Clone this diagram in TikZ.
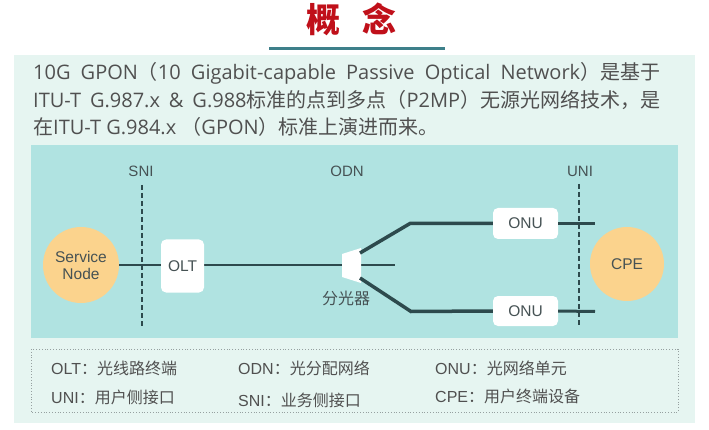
\documentclass[tikz,border=0pt]{standalone}
\usepackage{fontspec}
\setmainfont{Open Sans}
\newfontfamily\cjk{Noto Sans CJK SC}
\newfontfamily\arl{Liberation Sans}
\definecolor{titlered}{RGB}{192,16,26}
\definecolor{uline}{RGB}{62,128,138}
\definecolor{panel}{RGB}{230,245,241}
\definecolor{diag}{RGB}{176,227,225}
\definecolor{wire}{RGB}{45,74,77}
\definecolor{orangefill}{RGB}{251,211,141}
\definecolor{txt}{RGB}{80,80,80}
\definecolor{lbl}{RGB}{70,82,84}
\definecolor{legendline}{RGB}{150,160,160}
\usetikzlibrary{shapes.geometric}
\tikzset{
  para/.style={anchor=west, inner sep=0pt, text=txt, font=\fontsize{20}{24}\selectfont},
  dlabel/.style={text=lbl, inner sep=0pt, font=\arl\fontsize{15}{18}\selectfont},
  endpoint/.style={ellipse, fill=orangefill, minimum width=76pt, minimum height=76pt, inner sep=0pt, text=lbl, align=center, font=\arl\fontsize{15.5}{18}\selectfont},
  box/.style={rectangle, rounded corners=5pt, fill=white, text=lbl, inner sep=0pt, font=\arl\fontsize{15.5}{18}\selectfont},
  thinwire/.style={draw=wire, line width=2pt},
  thickwire/.style={draw=wire, line width=3.5pt},
  ifline/.style={draw=wire, line width=2pt, dash pattern=on 5pt off 3pt},
  legend/.style={anchor=west, inner sep=0pt, text=txt, font=\arl\fontsize{16}{19}\selectfont},
}
\begin{document}
\begin{tikzpicture}[x=1pt,y=-1pt]
\useasboundingbox (0,0) rectangle (709,430);
\fill[white] (0,0) rectangle (709,430);
\fill[panel] (14,55) rectangle (695,423);
% title
\node[text=titlered, inner sep=0pt, font=\cjk\bfseries\fontsize{34}{36}\selectfont] (title) at (351,19) {概\hspace{22pt}念};
\coordinate (ulL) at (269,49);
\coordinate (ulR) at (445,49);
\draw[draw=uline, line width=3pt] (ulL) -- (ulR);
% paragraph
\node[para] (p1) at (33,73) {\makebox[627pt][s]{10G GPON{\cjk （}10 Gigabit-capable Passive Optical Network{\cjk ）是基于}}};
\node[para] (p2) at (33,100) {\makebox[627pt][s]{ITU-T G.987.x \& G.988{\cjk 标准的点到多点（}P2MP{\cjk ）无源光网络技术，是}}};
\node[para] (p3) at (33,127) {{\cjk 在}ITU-T G.984.x {\cjk （}GPON{\cjk ）标准上演进而来。}};
% diagram
\fill[diag] (31,145) rectangle (678,338);
\node[dlabel] (sni) at (141,171) {SNI};
\node[dlabel] (odn) at (347,171) {ODN};
\node[dlabel] (uni) at (580,171) {UNI};
\coordinate (sniT) at (142,185);
\coordinate (sniB) at (142,327);
\coordinate (uniT) at (579,184);
\coordinate (uniB) at (579,326);
\node[endpoint] (sn) at (81,265) {Service\\[-1pt]Node};
\node[endpoint, minimum width=74pt, minimum height=74pt] (cpe) at (627,264) {CPE};
\coordinate (mainend) at (395,265);
\draw[thinwire] (sn.east) -- (mainend);
\draw[ifline] (sniT) -- (sniB);
\node[box, minimum width=43pt, minimum height=53pt] (olt) at (182.5,266) {OLT};
% splitter
\coordinate (spA) at (342,254);
\coordinate (spB) at (361,248);
\coordinate (spC) at (361,283);
\coordinate (spD) at (342,277);
\coordinate (spUp) at (360,253);
\coordinate (spDn) at (360,278);
\fill[white] (spA) -- (spB) -- (spC) -- (spD) -- cycle;
\node[dlabel, font=\cjk\fontsize{16}{18}\selectfont] (splabel) at (346,298) {分光器};
\node[box, minimum width=65pt, minimum height=31pt] (onu1) at (525.5,223.5) {ONU};
\node[box, minimum width=65pt, minimum height=30pt] (onu2) at (525.5,311) {ONU};
\coordinate (bend1) at (410,223.5);
\coordinate (bend2) at (411,311.5);
\draw[thickwire] (spUp) -- (bend1) -- (onu1.west);
\draw[thickwire] (spDn) -- (bend2) -- (onu2.west);
\coordinate (onu1end) at (595,223.5);
\coordinate (onu2end) at (595,311.5);
\draw[ifline] (uniT) -- (uniB);
\draw[draw=wire, line width=3pt] (onu1.east) -- (onu1end);
\draw[draw=wire, line width=3pt] (onu2.east) -- (onu2end);
% legend
\draw[draw=legendline, line width=0.8pt, dotted] (31,349) rectangle (678,412);
\node[legend] (l1) at (51,368) {OLT{\cjk ：光线路终端}};
\node[legend] (l2) at (238,368) {ODN{\cjk ：光分配网络}};
\node[legend] (l3) at (435,368) {ONU{\cjk ：光网络单元}};
\node[legend] (l4) at (51,397) {UNI{\cjk ：用户侧接口}};
\node[legend] (l5) at (238,400) {SNI{\cjk ：业务侧接口}};
\node[legend] (l6) at (435,396) {CPE{\cjk ：用户终端设备}};
\end{tikzpicture}
\end{document}
